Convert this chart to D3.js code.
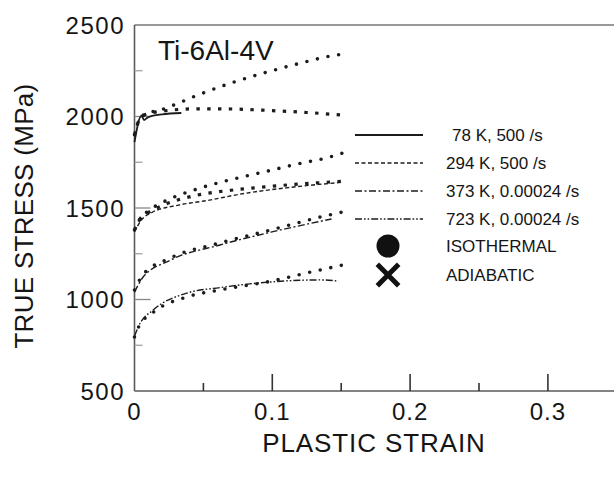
<!DOCTYPE html>
<html>
<head>
<meta charset="utf-8">
<script src="https://cdn.jsdelivr.net/npm/d3@7"></script>
<style>
  html, body { margin: 0; padding: 0; background: #fff; }
  svg { display: block; }
  text { font-family: "Liberation Sans", Arial, Helvetica, sans-serif; fill: #151515; }
</style>
</head>
<body>
<svg id="chart" width="614" height="479"></svg>
<script>
// Flow stress of Ti-6Al-4V: experiments (lines) and model predictions (markers)
const strainTicks = [0, 0.1, 0.2, 0.3];
const strainMinorTicks = [0.05, 0.15, 0.25];
const stressTicks = [500, 1000, 1500, 2000, 2500];
const stressMinorTicks = [750, 1250, 1750, 2250];

// experimental curves [plastic strain, true stress MPa]
const exp78K = [[0,1860],[0.005,2003],[0.007,1981],[0.010,1997],[0.020,2012],[0.034,2019]];
const exp294K = [[0,1370],[0.005,1434],[0.012,1473],[0.032,1516],[0.052,1540],[0.080,1580],[0.110,1610],[0.150,1640]];
const exp373K = [[0,1040],[0.006,1120],[0.026,1215],[0.062,1298],[0.099,1368],[0.143,1440]];
const exp723K = [[0,800],[0.003,855],[0.014,945],[0.038,1035],[0.062,1065],[0.099,1096],[0.120,1105],[0.135,1107],[0.148,1101]];

// model, isothermal
const iso78K = [[0,1900],[0.003,1975],[0.006,2005],[0.021,2041],[0.046,2117],[0.070,2183],[0.094,2238],[0.118,2287],[0.142,2330],[0.151,2341]];
const iso294K = [[0,1380],[0.004,1440],[0.009,1478],[0.021,1533],[0.046,1605],[0.070,1655],[0.094,1697],[0.118,1740],[0.142,1779],[0.151,1800]];
const iso373K = [[0,1052],[0.006,1134],[0.026,1227],[0.062,1309],[0.099,1380],[0.135,1451],[0.151,1478]];
const iso723K = [[0,795],[0.003,850],[0.014,932],[0.038,1014],[0.062,1052],[0.099,1100],[0.125,1145],[0.151,1188]];

// model, adiabatic
const adi78K = [[0,1900],[0.003,1975],[0.006,2005],[0.021,2030],[0.045,2042],[0.070,2041],[0.100,2032],[0.125,2022],[0.151,2008]];
const adi294K = [[0,1380],[0.004,1440],[0.009,1470],[0.021,1516],[0.046,1571],[0.070,1597],[0.094,1615],[0.118,1630],[0.142,1642],[0.151,1647]];

const legendLabels = ["78 K, 500 /s", "294 K, 500 /s", "373 K, 0.00024 /s", "723 K, 0.00024 /s"];
const legendDash = ["none", "4 2.5", "7 2.5 2 2.5", "7 2 1.6 2 1.6 2"];

const svg = d3.select("#chart");
const x = d3.scaleLinear().domain([0, 0.35]).range([134.5, 616.8]);
const y = d3.scaleLinear().domain([500, 2500]).range([391, 25]);
const axisColor = "#5a5a5a";
const ink = "#1c1c1c";

// frame: left and bottom axes, top border
svg.append("line").attr("x1", x(0)).attr("x2", 614).attr("y1", y(2500)).attr("y2", y(2500))
  .attr("stroke", "#777").attr("stroke-width", 1.3);
svg.append("line").attr("x1", x(0)).attr("x2", x(0)).attr("y1", y(2500)).attr("y2", y(500))
  .attr("stroke", axisColor).attr("stroke-width", 1.6);
svg.append("line").attr("x1", x(0)).attr("x2", 614).attr("y1", y(500)).attr("y2", y(500))
  .attr("stroke", axisColor).attr("stroke-width", 1.6);

// x ticks (pointing up into the plot)
svg.selectAll(".xmaj").data(strainTicks.filter(d => d > 0)).join("line")
  .attr("x1", d => x(d)).attr("x2", d => x(d)).attr("y1", y(500)).attr("y2", y(500) - 17)
  .attr("stroke", "#333").attr("stroke-width", 1.6);
svg.selectAll(".xmin").data(strainMinorTicks).join("line")
  .attr("x1", d => x(d)).attr("x2", d => x(d)).attr("y1", y(500)).attr("y2", y(500) - 8)
  .attr("stroke", "#333").attr("stroke-width", 1.6);
svg.selectAll(".xlab").data(strainTicks).join("text")
  .attr("x", d => x(d)).attr("y", 420).attr("text-anchor", "middle")
  .attr("font-size", 24).attr("letter-spacing", 1)
  .text(d => d === 0 ? "0" : d3.format(".1f")(d));

// y ticks (pointing right into the plot)
svg.selectAll(".ymaj").data(stressTicks.filter(d => d > 500 && d < 2500)).join("line")
  .attr("x1", x(0)).attr("x2", x(0) + 16).attr("y1", d => y(d)).attr("y2", d => y(d))
  .attr("stroke", "#888").attr("stroke-width", 1.3);
svg.selectAll(".ymin").data(stressMinorTicks).join("line")
  .attr("x1", x(0)).attr("x2", x(0) + 8).attr("y1", d => y(d)).attr("y2", d => y(d))
  .attr("stroke", "#999").attr("stroke-width", 1.2);
svg.selectAll(".ylab").data(stressTicks).join("text")
  .attr("x", 125).attr("y", d => y(d) + 8.5).attr("text-anchor", "end")
  .attr("font-size", 24).attr("letter-spacing", 1.5)
  .text(d => d);

// axis titles
svg.append("text").attr("transform", "translate(33,216) rotate(-90)")
  .attr("text-anchor", "middle").attr("font-size", 26).attr("letter-spacing", 0.3)
  .text("TRUE STRESS (MPa)");
svg.append("text").attr("x", 374).attr("y", 452).attr("text-anchor", "middle")
  .attr("font-size", 26).attr("letter-spacing", 0.9)
  .text("PLASTIC STRAIN");

// alloy label
svg.append("text").attr("x", 158).attr("y", 60).attr("font-size", 28).text("Ti-6Al-4V");

const line = d3.line().x(d => x(d[0])).y(d => y(d[1])).curve(d3.curveMonotoneX);

// isothermal predictions: round dots
[iso78K, iso294K, iso373K, iso723K].forEach(s => {
  svg.append("path").attr("d", line(s)).attr("fill", "none")
    .attr("stroke", ink).attr("stroke-width", 3.6)
    .attr("stroke-linecap", "round").attr("stroke-dasharray", "0 10.8");
});
// adiabatic predictions: small cross-like dashes
[adi78K, adi294K].forEach(s => {
  svg.append("path").attr("d", line(s)).attr("fill", "none")
    .attr("stroke", ink).attr("stroke-width", 3.2)
    .attr("stroke-dasharray", "3.4 7.4");
});
// experiments
[exp78K, exp294K, exp373K, exp723K].forEach((s, i) => {
  svg.append("path").attr("d", line(s)).attr("fill", "none")
    .attr("stroke", ink).attr("stroke-width", i === 0 ? 1.8 : 1.4)
    .attr("stroke-dasharray", legendDash[i]);
});

// legend
const legY = [135, 163, 191, 219];
legendLabels.forEach((lab, i) => {
  svg.append("line").attr("x1", 355).attr("x2", 423).attr("y1", legY[i]).attr("y2", legY[i])
    .attr("stroke", ink).attr("stroke-width", i === 0 ? 2 : 1.5)
    .attr("stroke-dasharray", legendDash[i]);
  svg.append("text").attr("x", i === 0 ? 452 : 446).attr("y", legY[i] + 6)
    .attr("font-size", 17).text(lab);
});
svg.append("circle").attr("cx", 388).attr("cy", 246).attr("r", 11.5).attr("fill", "#111");
svg.append("path").attr("d", d3.symbol(d3.symbolX, 300)()).attr("transform", "translate(388,275)")
  .attr("fill", "none").attr("stroke", "#111").attr("stroke-width", 5);
svg.append("text").attr("x", 446).attr("y", 252).attr("font-size", 17).text("ISOTHERMAL");
svg.append("text").attr("x", 446).attr("y", 281).attr("font-size", 17).text("ADIABATIC");
</script>
</body>
</html>
